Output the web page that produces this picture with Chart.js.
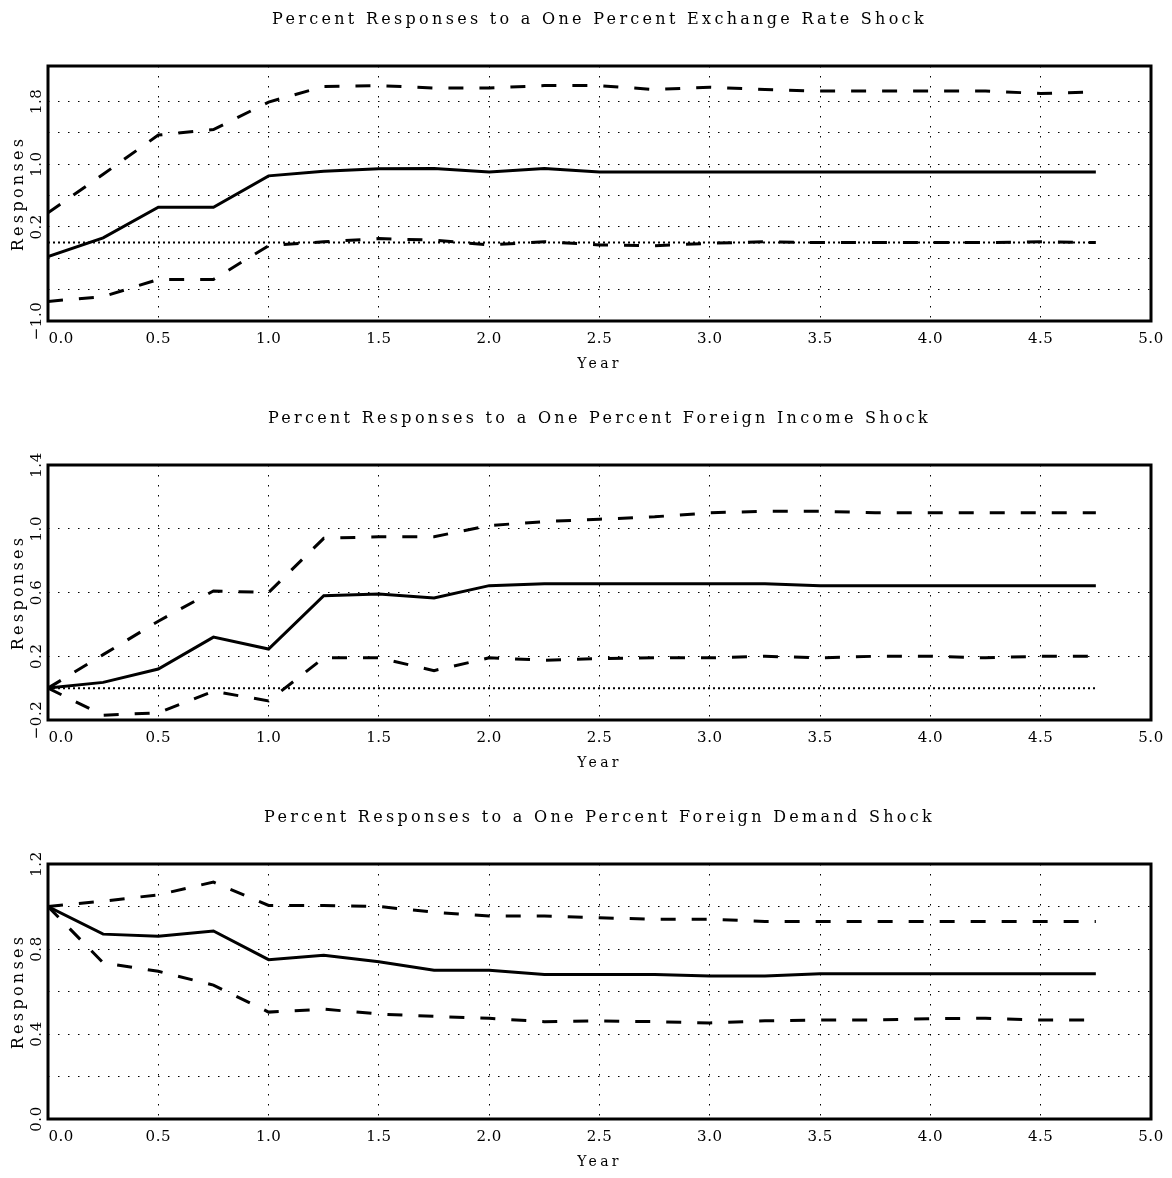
<!DOCTYPE html>
<html>
<head>
<meta charset="utf-8">
<script src="https://cdn.jsdelivr.net/npm/chart.js@4.4.1/dist/chart.umd.min.js"></script>
<style>
  html, body { margin: 0; padding: 0; background: #fff; overflow: hidden; }
  .panel { position: absolute; left: 0; width: 1172px; height: 399px; }
</style>
</head>
<body>
<div class="panel" style="top:0"><canvas id="exchange" width="1172" height="399"></canvas></div>
<div class="panel" style="top:399px"><canvas id="income" width="1172" height="399"></canvas></div>
<div class="panel" style="top:798px"><canvas id="demand" width="1172" height="399"></canvas></div>
<script>
// quarters after the shock (years)
const years = [0, 0.25, 0.5, 0.75, 1, 1.25, 1.5, 1.75, 2, 2.25, 2.5, 2.75, 3, 3.25, 3.5, 3.75, 4, 4.25, 4.5, 4.75];
const zeros = [0, 0, 0, 0, 0, 0, 0, 0, 0, 0, 0, 0, 0, 0, 0, 0, 0, 0, 0, 0];

const xTicks = [0, 0.5, 1, 1.5, 2, 2.5, 3, 3.5, 4, 4.5, 5];
const xTickLabels = ['0.0', '0.5', '1.0', '1.5', '2.0', '2.5', '3.0', '3.5', '4.0', '4.5', '5.0'];

// exchange rate shock
const exchResp = [-0.18, 0.06, 0.45, 0.45, 0.85, 0.91, 0.94, 0.945, 0.90, 0.945, 0.90, 0.90, 0.90, 0.90, 0.90, 0.90, 0.90, 0.90, 0.90, 0.90];
const exchUpper = [0.38, 0.87, 1.37, 1.44, 1.79, 1.99, 2.0, 1.97, 1.97, 2.0, 2.0, 1.95, 1.98, 1.95, 1.93, 1.93, 1.93, 1.93, 1.90, 1.92];
const exchLower = [-0.75, -0.69, -0.47, -0.47, -0.04, 0.01, 0.05, 0.03, -0.03, 0.01, -0.03, -0.04, -0.01, 0.01, 0.0, 0.0, 0.0, 0.0, 0.01, 0.0];
const exchTicks = [-1.0, -0.6, -0.2, 0.2, 0.6, 1.0, 1.4, 1.8];
const exchTickLabels = ['\u22121.0', '', '', '0.2', '', '1.0', '', '1.8'];

// foreign income shock
const incResp = [0.0, 0.036, 0.12, 0.32, 0.245, 0.58, 0.59, 0.565, 0.643, 0.655, 0.655, 0.655, 0.655, 0.655, 0.643, 0.643, 0.643, 0.643, 0.643, 0.643];
const incUpper = [0.0, 0.21, 0.42, 0.61, 0.60, 0.94, 0.95, 0.95, 1.02, 1.045, 1.06, 1.075, 1.10, 1.11, 1.11, 1.10, 1.10, 1.10, 1.10, 1.10];
const incLower = [0.0, -0.17, -0.155, -0.02, -0.08, 0.19, 0.19, 0.11, 0.19, 0.175, 0.185, 0.19, 0.19, 0.20, 0.19, 0.20, 0.20, 0.19, 0.20, 0.20];
const incTicks = [-0.2, 0.2, 0.6, 1.0, 1.4];
const incTickLabels = ['\u22120.2', '0.2', '0.6', '1.0', '1.4'];

// foreign demand shock
const demResp = [1.0, 0.87, 0.86, 0.885, 0.75, 0.77, 0.74, 0.70, 0.70, 0.68, 0.68, 0.68, 0.673, 0.673, 0.684, 0.684, 0.684, 0.684, 0.684, 0.684];
const demUpper = [1.0, 1.025, 1.055, 1.115, 1.005, 1.005, 1.0, 0.973, 0.955, 0.955, 0.947, 0.94, 0.94, 0.93, 0.93, 0.93, 0.93, 0.93, 0.93, 0.93];
const demLower = [1.0, 0.735, 0.695, 0.63, 0.503, 0.517, 0.494, 0.483, 0.474, 0.458, 0.462, 0.458, 0.452, 0.462, 0.466, 0.466, 0.472, 0.474, 0.466, 0.466];
const demTicks = [0.0, 0.2, 0.4, 0.6, 0.8, 1.0, 1.2];
const demTickLabels = ['0.0', '', '0.4', '', '0.8', '', '1.2'];

const FONT = 'DejaVu Serif';

const pts = (ys) => years.map((x, i) => ({ x: x, y: ys[i] }));

// thick box round the plot, wide letter spacing like the old plotter font
const frame = {
  id: 'frame',
  beforeDraw(chart) { chart.ctx.letterSpacing = '3.3px'; },
  beforeDatasetsDraw(chart) { chart.ctx.letterSpacing = '0.5px'; },
  afterDraw(chart) {
    const { ctx, chartArea: a } = chart;
    ctx.save();
    ctx.setLineDash([]);
    ctx.lineWidth = 3;
    ctx.strokeStyle = '#000';
    ctx.strokeRect(a.left, a.top, a.right - a.left, a.bottom - a.top);
    ctx.restore();
  }
};

function makeChart(id, title, resp, upper, lower, yMin, yMax, yTicks, yTickLabels, yPad) {
  const ctx = document.getElementById(id);
  return new Chart(ctx, {
    type: 'line',
    data: {
      datasets: [
        { data: pts(resp), borderColor: '#000', borderWidth: 3 },
        { data: pts(upper), borderColor: '#000', borderWidth: 3, borderDash: [15, 16] },
        { data: pts(lower), borderColor: '#000', borderWidth: 3, borderDash: [15, 16] },
        { data: pts(zeros), borderColor: '#000', borderWidth: 2, borderDash: [2, 3] }
      ]
    },
    options: {
      responsive: false,
      animation: false,
      devicePixelRatio: 1,
      parsing: false,
      elements: { point: { radius: 0 }, line: { tension: 0, fill: false } },
      layout: { padding: { left: 0, right: 21, top: 0, bottom: 0 } },
      plugins: {
        legend: { display: false },
        tooltip: { enabled: false },
        title: {
          display: true,
          fullSize: false,
          text: title,
          color: '#000',
          font: { family: FONT, size: 16, weight: 'normal' },
          padding: { top: 10, bottom: 36.8 }
        }
      },
      scales: {
        x: {
          type: 'linear',
          min: 0,
          max: 5,
          afterBuildTicks: (s) => { s.ticks = xTicks.map(v => ({ value: v })); },
          afterFit: (s) => { s.height = 78; },
          grid: { color: '#000', lineWidth: 1, drawTicks: false },
          border: { display: false, dash: [1.5, 8.5] },
          ticks: {
            z: 1,
            autoSkip: false,
            maxRotation: 0,
            padding: 9,
            color: '#000',
            font: { family: FONT, size: 15 },
            callback: (v, i) => (i === 0 ? '     ' : '') + xTickLabels[i]
          },
          title: {
            display: true,
            text: 'Year',
            color: '#000',
            font: { family: FONT, size: 14 },
            padding: { top: 0, bottom: 26.6 }
          }
        },
        y: {
          min: yMin,
          max: yMax,
          afterBuildTicks: (s) => { s.ticks = yTicks.map(v => ({ value: v })); },
          afterFit: (s) => { s.width = 48; },
          grid: { color: '#000', lineWidth: 1, drawTicks: false },
          border: { display: false, dash: [1.5, 8.5] },
          ticks: {
            z: 1,
            autoSkip: false,
            minRotation: 90,
            maxRotation: 90,
            crossAlign: 'center',
            padding: yPad,
            color: '#000',
            font: { family: FONT, size: 15 },
            callback: (v, i) => yTickLabels[i]
          },
          title: {
            display: true,
            text: 'Responses',
            color: '#000',
            font: { family: FONT, size: 16 },
            padding: { top: 9, bottom: 0 }
          }
        }
      }
    },
    plugins: [frame]
  });
}

makeChart('exchange', 'Percent Responses to a One Percent Exchange Rate Shock',
  exchResp, exchUpper, exchLower, -1.0, 2.25, exchTicks, exchTickLabels, -7.7);
makeChart('income', 'Percent Responses to a One Percent Foreign Income Shock',
  incResp, incUpper, incLower, -0.2, 1.4, incTicks, incTickLabels, -7.7);
makeChart('demand', 'Percent Responses to a One Percent Foreign Demand Shock',
  demResp, demUpper, demLower, 0.0, 1.2, demTicks, demTickLabels, -1.5);
</script>
</body>
</html>
